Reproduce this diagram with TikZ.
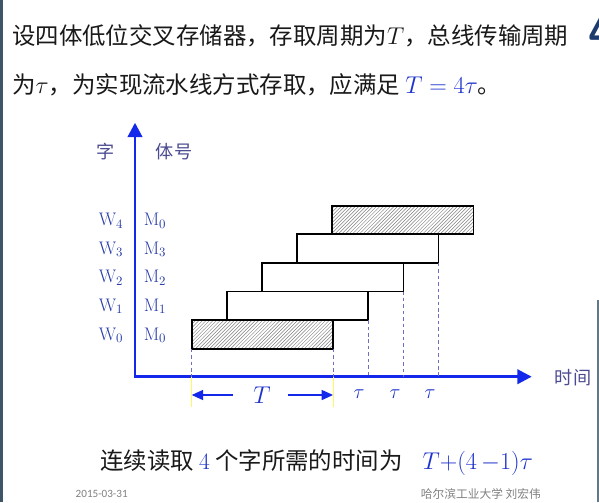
\documentclass[tikz,border=0pt]{standalone}
\usepackage{fontspec}
\usepackage{amsmath}
\usetikzlibrary{arrows.meta,positioning,patterns}
\newfontfamily\cjk{Noto Sans CJK SC}
\newfontfamily\datefont{Carlito}
\definecolor{axisblue}{RGB}{20,40,235}
\definecolor{labblue}{RGB}{40,60,170}
\definecolor{headblue}{RGB}{75,75,145}
\definecolor{mathblue}{RGB}{30,50,205}
\definecolor{guidecol}{RGB}{110,110,195}
\definecolor{edgecol}{RGB}{60,85,105}
\definecolor{slidenum}{RGB}{30,60,110}
\definecolor{inkcol}{RGB}{25,25,25}

\begin{document}
\begin{tikzpicture}[x=0.03cm,y=-0.03cm,
	bar/.style={draw=black,line width=1.4pt,minimum width=4.24cm,minimum height=0.858cm,inner sep=0pt,outer sep=0pt,anchor=south west},
	hatchbar/.style={bar,pattern=north east lines,pattern color=gray},
	guide/.style={draw=guidecol,line width=0.6pt,dash pattern=on 3pt off 2.5pt},
	tickline/.style={draw=yellow!60!white,line width=0.7pt},
	axis/.style={draw=axisblue,line width=2.4pt,line join=miter,{Triangle[length=4.3mm,width=4.3mm]}-{Triangle[length=4.3mm,width=4.3mm]}},
	dimarrow/.style={draw=axisblue,line width=1.1pt,-{Triangle[length=3.4mm,width=3mm]}},
	title/.style={font=\cjk\fontsize{20}{24}\selectfont,text=inkcol,inner sep=0pt,anchor=west},
	wlab/.style={font=\fontsize{15.5}{18}\selectfont,text=labblue,inner sep=0pt,anchor=base},
	headlab/.style={font=\cjk\fontsize{15.5}{18}\selectfont,text=headblue,inner sep=0pt},
	tlab/.style={inner sep=0pt}]
	\useasboundingbox (0,0) rectangle (599,502);
	\fill[white] (0,0) rectangle (599,502);
	\fill[edgecol] (0,0) rectangle (2.7,502);
	\fill[edgecol!80] (596.8,300) rectangle (599,502);
	\node[font=\sffamily\bfseries\fontsize{40}{40}\selectfont,text=slidenum,inner sep=0pt,anchor=base west] (pagenum) at (588,47) {4};
	% title
	\node[title] (line1) at (12,36) {设四体低位交叉存储器，存取周期为$T$，总线传输周期};
	\node[title] (line2) at (12,85) {为$\tau$，为实现流水线方式存取，应满足 {\color{mathblue}$T=4\tau$}。};
	% axes
	\coordinate (o) at (135,376.7);
	\coordinate (ytip) at (135,122.7);
	\coordinate (xtip) at (531.7,376.7);
	\draw[axis] (ytip) -- (o) -- (xtip);
	\node[headlab] (zi) at (106,152) {字};
	\node[headlab] (tihao) at (174,152) {体号};
	\node[headlab] (shijian) at (573,378) {时间};
	% bars
	\foreach \k/\sty/\m in {0/hatchbar/0,1/bar/1,2/bar/2,3/bar/3,4/hatchbar/0}{
		\node[\sty] (w\k) at ({191.7+35.15*\k},{348.7-28.6*\k}) {};
		\node[wlab] (wl\k) at (111,{340-28.6*\k}) {W$_\k$};
		\node[wlab] (ml\k) at (155,{340-28.6*\k}) {M$_\m$};
	}
	\draw[guide] (w0.south west) -- (w0.south west |- o);
	\foreach \k in {0,1,2,3}
		\draw[guide] (w\k.south east) -- (w\k.south east |- o);
	\draw[tickline] (w0.south west |- o) -- ++(0,30);
	\draw[tickline] (w0.south east |- o) -- ++(0,30);
	% T and tau
	\node[tlab,font=\fontsize{21}{24}\selectfont,text=mathblue] (Tlab) at (262,395) {$T$};
	\draw[dimarrow] ([xshift=-0.6cm]Tlab.west) -- (Tlab.west -| w0.south west);
	\draw[dimarrow] ([xshift=0.5cm]Tlab.east) -- (Tlab.east -| w0.south east);
	\foreach \x [count=\i] in {359,395,430}
		\node[tlab,font=\fontsize{17}{20}\selectfont,text=mathblue] (tau\i) at (\x,394) {$\tau$};
	% bottom
	\node[title] (total) at (100,462.6) {连续读取 {\normalfont\color{mathblue}4} 个字所需的时间为\hspace{0.85em}{\color{mathblue}$T{+}(4\,{-}1)\tau$}};
	\node[font=\datefont\fontsize{9.5}{11}\selectfont,text=gray,inner sep=0pt,anchor=west] (date) at (75.5,493.6) {2015-03-31};
	\node[font=\cjk\fontsize{10}{12}\selectfont,text=gray,inner sep=0pt,anchor=east] (school) at (541,493.6) {哈尔滨工业大学 刘宏伟};
\end{tikzpicture}
\end{document}
